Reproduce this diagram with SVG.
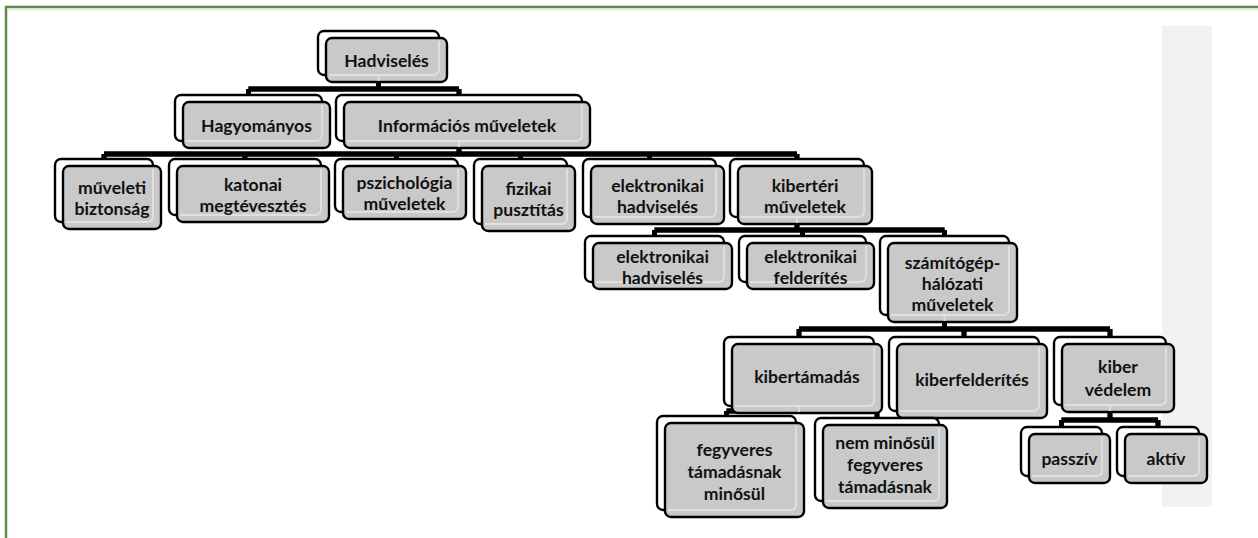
<svg xmlns="http://www.w3.org/2000/svg" width="1258" height="538" viewBox="0 0 1258 538">
<style>
.bk{fill:#fff;stroke:#000;stroke-width:2.4}
.fr{fill:#c9c9c9;stroke:#000;stroke-width:2.4}
.hl{fill:none;stroke:#e0e0e0;stroke-width:1.8}
.t{font-family:Lato,"Liberation Sans",sans-serif;font-weight:bold;font-size:17.6px;fill:#111;text-anchor:middle;dominant-baseline:central}
.co{fill:none;stroke:#000;stroke-width:4.8;stroke-linejoin:miter;stroke-linecap:butt}
.ci{fill:none;stroke:#fff;stroke-width:2.4;stroke-linejoin:miter;stroke-linecap:butt}
</style>
<rect x="0" y="0" width="1258" height="538" fill="#fff"/>
<rect x="1162" y="26" width="50" height="481" fill="#f2f2f2"/>
<path d="M6,538 V7 H1258" fill="none" stroke="#5e8a4e" stroke-width="2.5"/>
<path d="M8,10 H1258" fill="none" stroke="#e6ece2" stroke-width="1.5"/>
<g id="connectors">
<path id="cA" class="co" d="M378.5,70 V89 M248.5,89 H459 M248.5,89 V96 M459,89 V96"/>
<path id="cB" class="co" d="M459,136 V154 M104,154 H797 M104,154 V161 M245,154 V161 M396.5,154 V161 M520.5,154 V161 M649.5,154 V161 M797,154 V161"/>
<path id="cC" class="co" d="M797,212 V230 M654.5,230 H944.5 M654.5,230 V238 M802.5,230 V238 M944.5,230 V238"/>
<path id="cD" class="co" d="M944.5,310 V329 M799,329 H1110 M799,329 V339 M964,329 V339 M1110,329 V339"/>
<path id="cE" class="co" d="M799,400 V411 M726.5,411 H877 M726.5,411 V418 M877,411 V420"/>
<path id="cF" class="co" d="M1110,400 V420 M1061.5,420 H1158 M1061.5,420 V429 M1158,420 V429"/>
<use href="#cA" class="ci"/><use href="#cB" class="ci"/><use href="#cC" class="ci"/>
<use href="#cD" class="ci"/><use href="#cE" class="ci"/><use href="#cF" class="ci"/>
</g>
<g id="hadviseles">
<rect class="bk" x="318" y="31" width="121" height="44" rx="6"/>
<rect class="fr" x="326" y="38" width="121" height="44" rx="6"/>
<path class="hl" d="M329,75 H433 Q439,75 439,69 V41 M378.5,75 V81"/>
<text class="t" x="386.5" y="60">Hadviselés</text>
</g>
<g id="hagyomanyos">
<rect class="bk" x="175" y="95" width="147" height="46" rx="6"/>
<rect class="fr" x="183" y="102" width="147" height="46" rx="6"/>
<path class="hl" d="M186,141 H316 Q322,141 322,135 V105"/>
<text class="t" x="256.5" y="125">Hagyományos</text>
</g>
<g id="informacios">
<rect class="bk" x="336" y="95" width="246" height="46" rx="6"/>
<rect class="fr" x="344" y="102" width="246" height="46" rx="6"/>
<path class="hl" d="M347,141 H576 Q582,141 582,135 V105 M459,141 V147"/>
<text class="t" x="467" y="125">Információs műveletek</text>
</g>
<g id="muveleti-biztonsag">
<rect class="bk" x="55" y="159" width="98" height="63" rx="6"/>
<rect class="fr" x="63" y="166" width="98" height="63" rx="6"/>
<path class="hl" d="M66,222 H147 Q153,222 153,216 V169"/>
<text class="t" x="112" y="187">műveleti</text>
<text class="t" x="112" y="208">biztonság</text>
</g>
<g id="katonai-megtevesztes">
<rect class="bk" x="169" y="159" width="152" height="56" rx="6"/>
<rect class="fr" x="177" y="166" width="152" height="56" rx="6"/>
<path class="hl" d="M180,215 H315 Q321,215 321,209 V169"/>
<text class="t" x="253" y="184">katonai</text>
<text class="t" x="253" y="205">megtévesztés</text>
</g>
<g id="pszichologia-muveletek">
<rect class="bk" x="335" y="159" width="123" height="53" rx="6"/>
<rect class="fr" x="343" y="166" width="123" height="53" rx="6"/>
<path class="hl" d="M346,212 H452 Q458,212 458,206 V169"/>
<text class="t" x="404.5" y="182">pszichológia</text>
<text class="t" x="404.5" y="203">műveletek</text>
</g>
<g id="fizikai-pusztitas">
<rect class="bk" x="474" y="159" width="93" height="65" rx="6"/>
<rect class="fr" x="482" y="166" width="93" height="65" rx="6"/>
<path class="hl" d="M485,224 H561 Q567,224 567,218 V169"/>
<text class="t" x="528.5" y="188">fizikai</text>
<text class="t" x="528.5" y="209">pusztítás</text>
</g>
<g id="elektronikai-hadviseles-1">
<rect class="bk" x="583" y="159" width="133" height="58" rx="6"/>
<rect class="fr" x="591" y="166" width="133" height="58" rx="6"/>
<path class="hl" d="M594,217 H710 Q716,217 716,211 V169"/>
<text class="t" x="657.5" y="185">elektronikai</text>
<text class="t" x="657.5" y="206">hadviselés</text>
</g>
<g id="kiberteri-muveletek">
<rect class="bk" x="730" y="159" width="134" height="58" rx="6"/>
<rect class="fr" x="738" y="166" width="134" height="58" rx="6"/>
<path class="hl" d="M741,217 H858 Q864,217 864,211 V169 M797,217 V223"/>
<text class="t" x="805" y="185">kibertéri</text>
<text class="t" x="805" y="206">műveletek</text>
</g>
<g id="elektronikai-hadviseles-2">
<rect class="bk" x="585" y="236" width="139" height="46" rx="6"/>
<rect class="fr" x="593" y="243" width="139" height="46" rx="6"/>
<path class="hl" d="M596,282 H718 Q724,282 724,276 V246"/>
<text class="t" x="662.5" y="256">elektronikai</text>
<text class="t" x="662.5" y="277">hadviselés</text>
</g>
<g id="elektronikai-felderites">
<rect class="bk" x="739" y="236" width="127" height="46" rx="6"/>
<rect class="fr" x="747" y="243" width="127" height="46" rx="6"/>
<path class="hl" d="M750,282 H860 Q866,282 866,276 V246"/>
<text class="t" x="810.5" y="256">elektronikai</text>
<text class="t" x="810.5" y="277">felderítés</text>
</g>
<g id="szamitogep-halozati-muveletek">
<rect class="bk" x="880" y="236" width="129" height="79" rx="6"/>
<rect class="fr" x="888" y="243" width="129" height="79" rx="6"/>
<path class="hl" d="M891,315 H1003 Q1009,315 1009,309 V246 M944.5,315 V321"/>
<text class="t" x="952.5" y="262">számítógép-</text>
<text class="t" x="952.5" y="283">hálózati</text>
<text class="t" x="952.5" y="304">műveletek</text>
</g>
<g id="kibertamadas">
<rect class="bk" x="724" y="337" width="150" height="69" rx="6"/>
<rect class="fr" x="732" y="344" width="150" height="69" rx="6"/>
<path class="hl" d="M735,406 H868 Q874,406 874,400 V347 M799,406 V412"/>
<text class="t" x="807" y="376">kibertámadás</text>
</g>
<g id="kiberfelderites">
<rect class="bk" x="889" y="337" width="150" height="74" rx="6"/>
<rect class="fr" x="897" y="344" width="150" height="74" rx="6"/>
<path class="hl" d="M900,411 H1033 Q1039,411 1039,405 V347"/>
<text class="t" x="972" y="379">kiberfelderítés</text>
</g>
<g id="kiber-vedelem">
<rect class="bk" x="1054" y="337" width="112" height="68" rx="6"/>
<rect class="fr" x="1062" y="344" width="112" height="68" rx="6"/>
<path class="hl" d="M1065,405 H1160 Q1166,405 1166,399 V347 M1110,405 V411"/>
<text class="t" x="1118" y="366">kiber</text>
<text class="t" x="1118" y="389">védelem</text>
</g>
<g id="fegyveres-tamadasnak-minosul">
<rect class="bk" x="657" y="416" width="139" height="94" rx="6"/>
<rect class="fr" x="665" y="423" width="139" height="94" rx="6"/>
<path class="hl" d="M668,510 H790 Q796,510 796,504 V426"/>
<text class="t" x="734.5" y="449">fegyveres</text>
<text class="t" x="734.5" y="471">támadásnak</text>
<text class="t" x="734.5" y="493">minősül</text>
</g>
<g id="nem-minosul-fegyveres-tamadasnak">
<rect class="bk" x="815" y="418" width="124" height="83" rx="6"/>
<rect class="fr" x="823" y="425" width="124" height="83" rx="6"/>
<path class="hl" d="M826,501 H933 Q939,501 939,495 V428"/>
<text class="t" x="885" y="442">nem minősül</text>
<text class="t" x="885" y="464">fegyveres</text>
<text class="t" x="885" y="486">támadásnak</text>
</g>
<g id="passziv">
<rect class="bk" x="1021" y="427" width="81" height="49" rx="6"/>
<rect class="fr" x="1029" y="434" width="81" height="49" rx="6"/>
<path class="hl" d="M1032,476 H1096 Q1102,476 1102,470 V437"/>
<text class="t" x="1069.5" y="458">passzív</text>
</g>
<g id="aktiv">
<rect class="bk" x="1117" y="427" width="82" height="49" rx="6"/>
<rect class="fr" x="1125" y="434" width="82" height="49" rx="6"/>
<path class="hl" d="M1128,476 H1193 Q1199,476 1199,470 V437"/>
<text class="t" x="1166" y="458">aktív</text>
</g>
</svg>
